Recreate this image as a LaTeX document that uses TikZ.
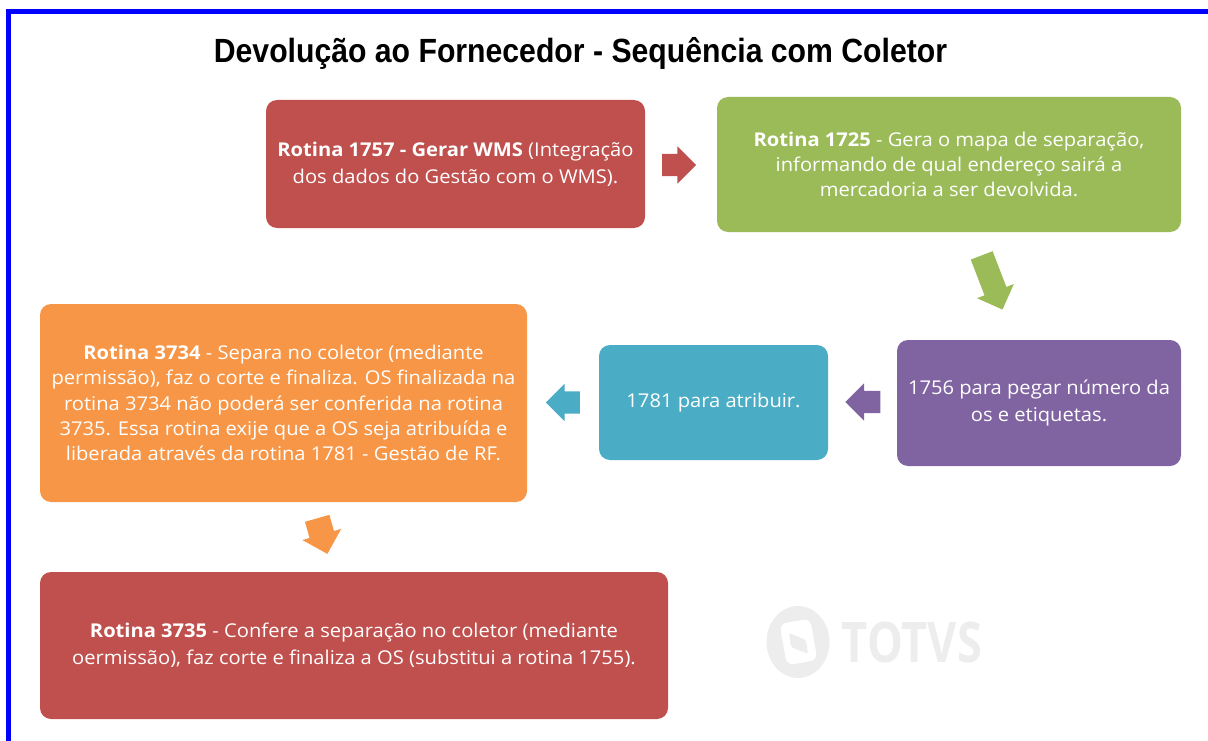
\documentclass[tikz,border=0pt]{standalone}
\usepackage{fontspec}
\setmainfont{Open Sans}[FakeStretch=1.06]
\newfontfamily\titlefont{Liberation Sans}
\usetikzlibrary{shapes.arrows,calc}
\definecolor{cred}{HTML}{C0504D}
\definecolor{cgreen}{HTML}{9BBB59}
\definecolor{cpurple}{HTML}{8064A2}
\definecolor{cblue}{HTML}{4BACC6}
\definecolor{corange}{HTML}{F79646}
\definecolor{logo}{HTML}{EDEDED}
\tikzset{
  x=1pt,y=-1pt,
  flowbox/.style={rounded corners=11pt,inner sep=0pt,text=white,align=center,
     font=\fontsize{19}{27}\selectfont},
  tightbox/.style={flowbox,font=\fontsize{19}{25.3}\selectfont},
  blockarrow/.style={single arrow,draw=none,inner xsep=0pt,inner ysep=11pt,single arrow head extend=7.5pt,
     single arrow head indent=0pt,minimum height=35pt,minimum width=22pt},
}
\newcommand{\boxat}[8][flowbox]{% style, name, x0,y0,x1,y1,colour,text
  \fill[#7,rounded corners=11pt] (#3,#4) rectangle (#5,#6);
  \node[#1] (#2) at ({(#3+#5)/2},{(#4+#6)/2}) {#8};
}
\begin{document}
\begin{tikzpicture}
\useasboundingbox (0,0) rectangle (1208,741);
\begin{scope}
\clip (0,0) rectangle (1208,741);
\draw[blue,line width=5.5pt] (8.5,11.5) rectangle (1230,770);
\end{scope}
\node[inner sep=0pt,anchor=center,font=\titlefont\bfseries\fontsize{30.5}{34}\selectfont] (title) at (580.5,53)
  {\scalebox{0.99}[1.1]{Devolução ao Fornecedor - Sequência com Coletor}};

\boxat{r1}{266}{100}{645}{228}{cred}{\textbf{Rotina 1757 - Gerar WMS} (Integração\\dos dados do Gestão com o WMS).}
\boxat[tightbox]{g}{717}{97}{1181}{232}{cgreen}{\textbf{Rotina 1725} - Gera o mapa de separação,\\informando de qual endereço sairá a\\mercadoria a ser devolvida.}
\boxat{p}{897}{340}{1181}{466}{cpurple}{1756 para pegar número da\\os e etiquetas.}
\boxat{b}{599}{345}{828}{460}{cblue}{1781 para atribuir.}
\boxat[tightbox]{o}{40}{304}{527}{502}{corange}{\textbf{Rotina 3734} - Separa no coletor (mediante\\permissão), faz o corte e finaliza. OS finalizada na\\rotina 3734 não poderá ser conferida na rotina\\3735. Essa rotina exije que a OS seja atribuída e\\liberada através da rotina 1781 - Gestão de RF.}
\boxat{r2}{40}{572}{668}{719}{cred}{\textbf{Rotina 3735} - Confere a separação no coletor (mediante\\oermissão), faz corte e finaliza a OS (substitui a rotina 1755).}

\node[blockarrow,fill=cred,minimum height=34pt] (a1) at (673.5,165) {};
\node[blockarrow,fill=cgreen,rotate=-69,minimum height=58pt,inner ysep=11.5pt,single arrow head extend=8pt] (a2) at (990,277) {};
\node[blockarrow,fill=cpurple,rotate=180] (a3) at (868.5,402) {};
\node[blockarrow,fill=cblue,rotate=180,minimum height=34pt] (a4) at (568.5,402.5) {};
\node[blockarrow,fill=corange,rotate=-74,minimum height=37pt,inner ysep=12.5pt] (a5) at (320.5,530) {};

% logo
\fill[logo] (798,642) ellipse (31.5 and 36);
\fill[white,rounded corners=7pt,rotate around={10:(798,642)}] (783,621) rectangle (814,663);
\fill[logo,rounded corners=2pt] (789,633) -- (806,640) -- (808,654) -- (791,647) -- cycle;
\node[inner sep=0pt,text=logo,font=\bfseries\fontsize{56}{58}\selectfont] (logotext) at (912,642) {\scalebox{0.76}[1]{TOTVS}};
\end{tikzpicture}
\end{document}
